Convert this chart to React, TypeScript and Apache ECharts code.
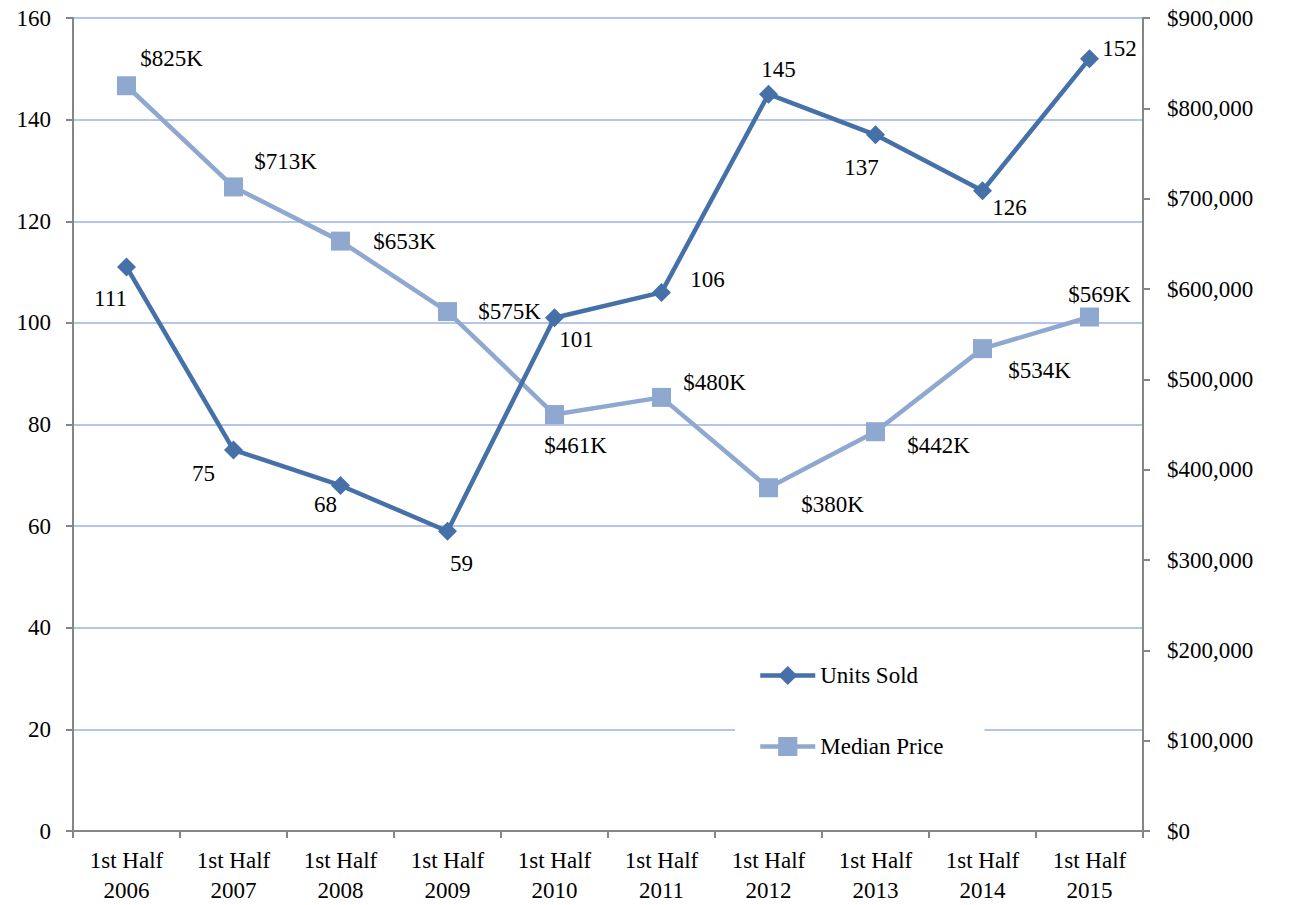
import React, { useEffect, useRef } from "react";
import * as echarts from "echarts";

const categories = ["1st Half\n2006", "1st Half\n2007", "1st Half\n2008", "1st Half\n2009", "1st Half\n2010", "1st Half\n2011", "1st Half\n2012", "1st Half\n2013", "1st Half\n2014", "1st Half\n2015"];
const unitsSold = [111, 75, 68, 59, 101, 106, 145, 137, 126, 152];
const medianPrice = [825000, 713000, 653000, 575000, 461000, 480000, 380000, 442000, 534000, 569000];

const unitsLabelOffsets = [[-16, 32], [-30, 24], [-15, 19], [14, 32], [22, 22], [46, -13], [10, -25], [-14, 33], [27, 17], [30, -10]];
const priceLabelOffsets = [[45, -27], [52, -25], [64, 0], [62, 0], [21, 31], [53, -15], [64, 17], [63, 14], [57, 22], [10, -23]];

const FONT = "'Liberation Serif', 'DejaVu Serif', serif";
const FS = 23;
const DARK = "#4570a8";
const LIGHT = "#8fa8d0";

export default function App() {
  const ref = useRef<HTMLDivElement>(null);
  useEffect(() => {
    const chart = echarts.init(ref.current!, null, { renderer: "svg" });
    const labelBase = { show: true, position: "inside", color: "#000", fontSize: FS, fontFamily: FONT };
    chart.setOption({
      animation: false,
      textStyle: { fontFamily: FONT },
      grid: { left: 73, right: 149, top: 18, bottom: 73 },
      legend: {
        orient: "vertical",
        left: 735,
        top: 650,
        padding: [14, 41, 14, 23],
        itemGap: 48,
        itemWidth: 55,
        itemHeight: 24,
        backgroundColor: "#fff",
        lineStyle: { width: 4.5 },
        data: ["Units Sold", "Median Price"],
        textStyle: { fontSize: FS, fontFamily: FONT, color: "#000", padding: [0, 0, 0, 0] },
      },
      xAxis: {
        type: "category",
        data: categories,
        boundaryGap: true,
        axisLine: { lineStyle: { color: "#868686", width: 2 } },
        axisTick: { show: true, length: 7, lineStyle: { color: "#868686", width: 2 } },
        axisLabel: { color: "#000", fontSize: FS, fontFamily: FONT, lineHeight: 30, margin: 14, interval: 0 },
      },
      yAxis: [
        {
          type: "value",
          min: 0,
          max: 160,
          interval: 20,
          axisLine: { show: true, lineStyle: { color: "#868686", width: 2 } },
          axisTick: { show: true, length: 7, lineStyle: { color: "#868686", width: 2 } },
          splitLine: { show: true, lineStyle: { color: "#b4c6e7", width: 2 } },
          axisLabel: { color: "#000", fontSize: FS, fontFamily: FONT, margin: 22 },
        },
        {
          type: "value",
          min: 0,
          max: 900000,
          interval: 100000,
          position: "right",
          axisLine: { show: true, lineStyle: { color: "#868686", width: 2 } },
          axisTick: { show: true, length: 7, lineStyle: { color: "#868686", width: 2 } },
          splitLine: { show: false },
          axisLabel: {
            color: "#000",
            fontSize: FS,
            fontFamily: FONT,
            margin: 24,
            formatter: (v: number) => "$" + v.toLocaleString("en-US"),
          },
        },
      ],
      series: [
        {
          name: "Median Price",
          type: "line",
          yAxisIndex: 1,
          data: medianPrice.map((v, i) => ({
            value: v,
            label: { ...labelBase, offset: priceLabelOffsets[i] },
          })),
          symbol: "rect",
          symbolSize: 19,
          lineStyle: { color: LIGHT, width: 4.5 },
          itemStyle: { color: LIGHT },
          label: { ...labelBase, formatter: (p: any) => "$" + Math.round(p.value / 1000) + "K" },
          z: 2,
        },
        {
          name: "Units Sold",
          type: "line",
          yAxisIndex: 0,
          data: unitsSold.map((v, i) => ({
            value: v,
            label: { ...labelBase, offset: unitsLabelOffsets[i] },
          })),
          symbol: "diamond",
          symbolSize: 19,
          lineStyle: { color: DARK, width: 4.5 },
          itemStyle: { color: DARK },
          label: { ...labelBase },
          z: 3,
        },
      ],
    });
    return () => chart.dispose();
  }, []);
  return <div ref={ref} style={{ width: 1292, height: 905, position: "absolute", left: 0, top: 0 }} />;
}
